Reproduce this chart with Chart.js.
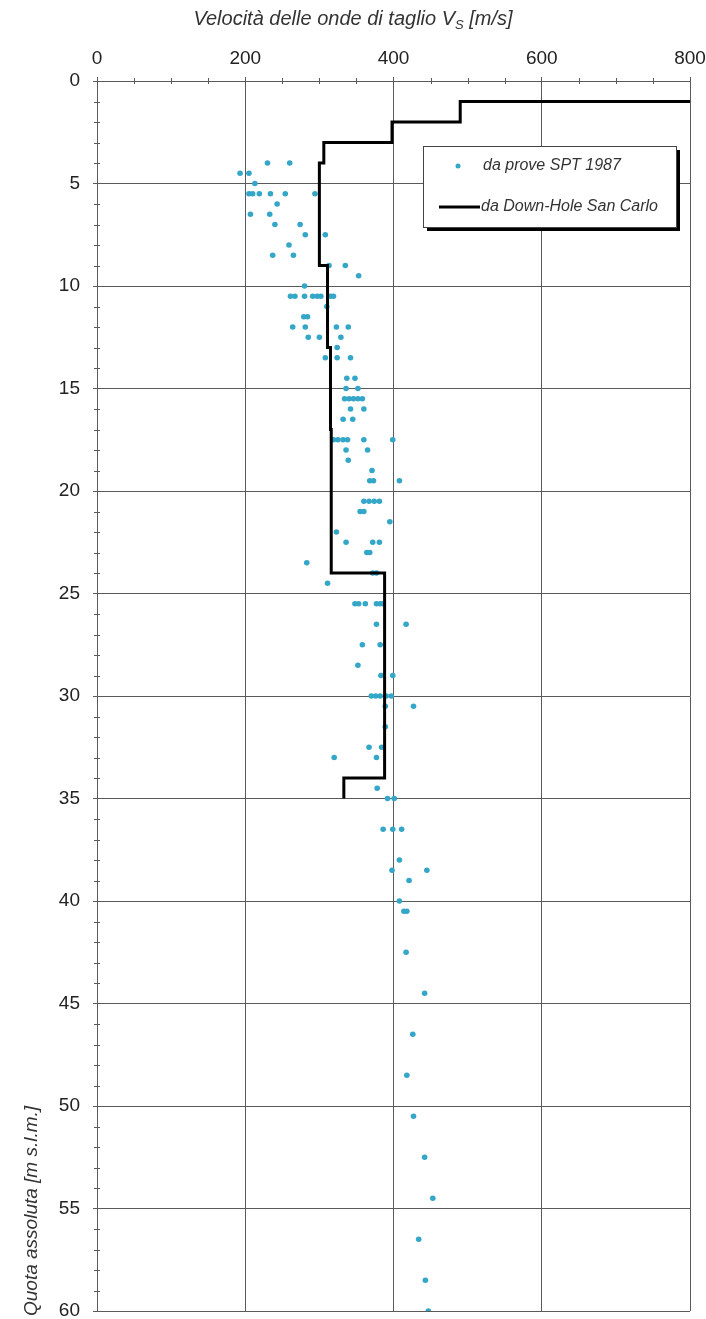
<!DOCTYPE html>
<html>
<head>
  <meta charset="utf-8">
  <title>Velocità delle onde di taglio - San Carlo</title>
  <script src="https://cdn.jsdelivr.net/npm/chart.js"></script>
  <style>
    body { margin: 0; background: #fff; }
  </style>
</head>
<body>
  <canvas id="myChart" width="706" height="1319"></canvas>

  <script>
    // prove SPT 1987: quota [m] and Vs [m/s], one entry per point (grouped by quota)
    const sptDepth = [
      4, 4,
      4.5, 4.5,
      5,
      5.5, 5.5, 5.5, 5.5, 5.5, 5.5,
      6,
      6.5, 6.5,
      7, 7,
      7.5, 7.5,
      8,
      8.5, 8.5,
      9, 9,
      9.5,
      10,
      10.5, 10.5, 10.5, 10.5, 10.5, 10.5, 10.5, 10.5,
      11,
      11.5, 11.5,
      12, 12, 12, 12,
      12.5, 12.5, 12.5,
      13,
      13.5, 13.5, 13.5,
      14.5, 14.5,
      15, 15,
      15.5, 15.5, 15.5, 15.5, 15.5,
      16, 16,
      16.5, 16.5,
      17.5, 17.5, 17.5, 17.5, 17.5, 17.5,
      18, 18,
      18.5,
      19,
      19.5, 19.5, 19.5,
      20.5, 20.5, 20.5, 20.5,
      21, 21,
      21.5,
      22,
      22.5, 22.5, 22.5,
      23, 23,
      23.5,
      24, 24,
      24.5,
      25.5, 25.5, 25.5, 25.5, 25.5, 25.5,
      26.5, 26.5,
      27.5, 27.5,
      28.5,
      29, 29,
      30, 30, 30, 30, 30,
      30.5, 30.5,
      31.5,
      32.5, 32.5,
      33, 33,
      34.5,
      35, 35,
      36.5, 36.5, 36.5,
      38,
      38.5, 38.5,
      39,
      40,
      40.5, 40.5,
      42.5,
      44.5,
      46.5,
      48.5,
      50.5,
      52.5,
      54.5,
      56.5,
      58.5,
      60
    ];
    const sptVs = [
      230, 260,
      193, 205,
      213,
      205, 210, 219, 234, 254, 294,
      243,
      207, 233,
      240, 274,
      281, 308,
      259,
      237, 265,
      313, 335,
      353,
      280,
      261, 267, 280, 291, 297, 302, 315, 319,
      310,
      279, 284,
      264, 281, 323, 339,
      285, 300, 329,
      324,
      308, 324, 342,
      337, 348,
      336, 352,
      334, 340, 346, 352, 358,
      342, 360,
      332, 345,
      319, 325, 332, 338, 360, 399,
      336, 365,
      339,
      371,
      368, 373, 408,
      360, 367, 374, 381,
      355, 360,
      395,
      323,
      336, 372, 381,
      364, 368,
      283,
      372, 377,
      311,
      348, 353, 362, 377, 382, 386,
      377, 417,
      358, 382,
      352,
      383, 399,
      370, 376, 382, 390, 397,
      389, 427,
      389,
      367, 384,
      320, 377,
      378,
      392, 401,
      386, 399, 411,
      408,
      398, 445,
      421,
      408,
      414, 418,
      417,
      442,
      426,
      418,
      427,
      442,
      453,
      434,
      443,
      447
    ];

    // Down-Hole San Carlo, step profile
    const dhDepth = [1, 1, 2, 2, 3, 3, 4, 4, 9, 9, 13, 13, 17, 17, 24, 24, 34, 34, 35];
    const dhVs = [800, 490, 490, 398, 398, 306, 306, 300, 300, 311, 311, 315, 315, 316, 316, 388, 388, 333, 333];

    const xLabels = [0, 200, 400, 600, 800];
    const yLabels = [0, 5, 10, 15, 20, 25, 30, 35, 40, 45, 50, 55, 60];

    const gridColor = '#5a5a5a';
    const sptColor = '#34a6c8';
    const fontFamily = '"Liberation Sans", Arial, sans-serif';

    const sptPoints = sptVs.map((v, i) => ({ x: v, y: sptDepth[i] }));
    const dhPoints = dhVs.map((v, i) => ({ x: v, y: dhDepth[i] }));

    // titles, minor ticks and the boxed legend
    const decorations = {
      id: 'decorations',
      afterDraw(chart) {
        const { ctx, chartArea: a, scales: { x, y } } = chart;
        ctx.save();

        ctx.strokeStyle = gridColor;
        ctx.lineWidth = 1;
        ctx.beginPath();
        x.ticks.forEach(t => {
          if (xLabels.includes(t.value)) return;
          const px = Math.round(x.getPixelForValue(t.value)) + 0.5;
          ctx.moveTo(px, a.top - 3);
          ctx.lineTo(px, a.top + 3);
        });
        y.ticks.forEach(t => {
          if (yLabels.includes(t.value)) return;
          const py = Math.round(y.getPixelForValue(t.value)) + 0.5;
          ctx.moveTo(a.left - 3, py);
          ctx.lineTo(a.left + 3, py);
        });
        ctx.stroke();

        // top title with subscript
        ctx.fillStyle = '#333';
        ctx.textBaseline = 'alphabetic';
        ctx.textAlign = 'left';
        const big = 'italic 20px ' + fontFamily;
        const small = 'italic 13px ' + fontFamily;
        const parts = [['Velocità delle onde di taglio V', big, 0], ['S', small, 4], [' [m/s]', big, 0]];
        let total = 0;
        parts.forEach(p => { ctx.font = p[1]; total += ctx.measureText(p[0]).width; });
        let tx = 353 - total / 2;
        parts.forEach(p => {
          ctx.font = p[1];
          ctx.fillText(p[0], tx, 25 + p[2]);
          tx += ctx.measureText(p[0]).width;
        });

        // y title, anchored at the bottom
        ctx.save();
        ctx.translate(32, a.bottom + 5);
        ctx.rotate(-Math.PI / 2);
        ctx.font = 'italic 19px ' + fontFamily;
        ctx.textBaseline = 'middle';
        ctx.fillText('Quota assoluta [m s.l.m.]', 0, 0);
        ctx.restore();

        // legend
        const bx = 423, by = 146, bw = 253, bh = 81;
        ctx.fillStyle = '#000';
        ctx.fillRect(bx + 4, by + 4, bw, bh);
        ctx.fillStyle = '#fff';
        ctx.fillRect(bx, by, bw, bh);
        ctx.strokeStyle = '#444';
        ctx.lineWidth = 1;
        ctx.strokeRect(bx + 0.5, by + 0.5, bw, bh);

        ctx.fillStyle = sptColor;
        ctx.beginPath();
        ctx.arc(458, 166, 2.5, 0, Math.PI * 2);
        ctx.fill();

        ctx.strokeStyle = '#000';
        ctx.lineWidth = 3;
        ctx.beginPath();
        ctx.moveTo(439, 207);
        ctx.lineTo(480, 207);
        ctx.stroke();

        ctx.fillStyle = '#333';
        ctx.font = 'italic 16px ' + fontFamily;
        ctx.textBaseline = 'middle';
        ctx.fillText(chart.data.datasets[1].label, 483, 166);
        ctx.fillText(chart.data.datasets[0].label, 481, 207);

        ctx.restore();
      }
    };

    const tickFont = { family: fontFamily, size: 19 };

    new Chart(document.getElementById('myChart').getContext('2d'), {
      type: 'scatter',
      data: {
        datasets: [
          {
            label: 'da Down-Hole San Carlo',
            data: dhPoints,
            showLine: true,
            borderColor: '#000',
            borderWidth: 3,
            borderJoinStyle: 'miter',
            pointRadius: 0,
            order: 0
          },
          {
            label: 'da prove SPT 1987',
            data: sptPoints,
            backgroundColor: sptColor,
            borderWidth: 0,
            pointRadius: 2.8,
            order: 1
          }
        ]
      },
      options: {
        responsive: false,
        animation: false,
        layout: { padding: { left: 0, top: 0, right: 16, bottom: 8 } },
        plugins: {
          legend: { display: false },
          tooltip: { enabled: false }
        },
        scales: {
          x: {
            type: 'linear',
            position: 'top',
            min: 0,
            max: 800,
            afterFit(s) {
              s.height = 81;
              s.paddingLeft = 0;
              s.paddingRight = 0;
            },
            ticks: {
              stepSize: 50,
              autoSkip: false,
              maxRotation: 0,
              padding: 7,
              color: '#222',
              font: tickFont,
              callback: v => xLabels.includes(v) ? v : ''
            },
            grid: {
              color: c => xLabels.includes(c.tick.value) ? gridColor : 'rgba(0,0,0,0)',
              tickColor: c => xLabels.includes(c.tick.value) ? gridColor : 'rgba(0,0,0,0)',
              tickLength: 4,
              lineWidth: 1
            },
            border: { color: gridColor, width: 1 }
          },
          y: {
            type: 'linear',
            reverse: true,
            min: 0,
            max: 60,
            afterFit(s) {
              s.width = 97;
              s.paddingTop = 0;
              s.paddingBottom = 0;
            },
            ticks: {
              stepSize: 1,
              autoSkip: false,
              padding: 13,
              color: '#222',
              font: tickFont,
              callback: v => yLabels.includes(v) ? v : ''
            },
            grid: {
              color: c => yLabels.includes(c.tick.value) ? gridColor : 'rgba(0,0,0,0)',
              tickColor: c => yLabels.includes(c.tick.value) ? gridColor : 'rgba(0,0,0,0)',
              tickLength: 4,
              lineWidth: 1
            },
            border: { color: gridColor, width: 1 }
          }
        }
      },
      plugins: [decorations]
    });
  </script>
</body>
</html>
